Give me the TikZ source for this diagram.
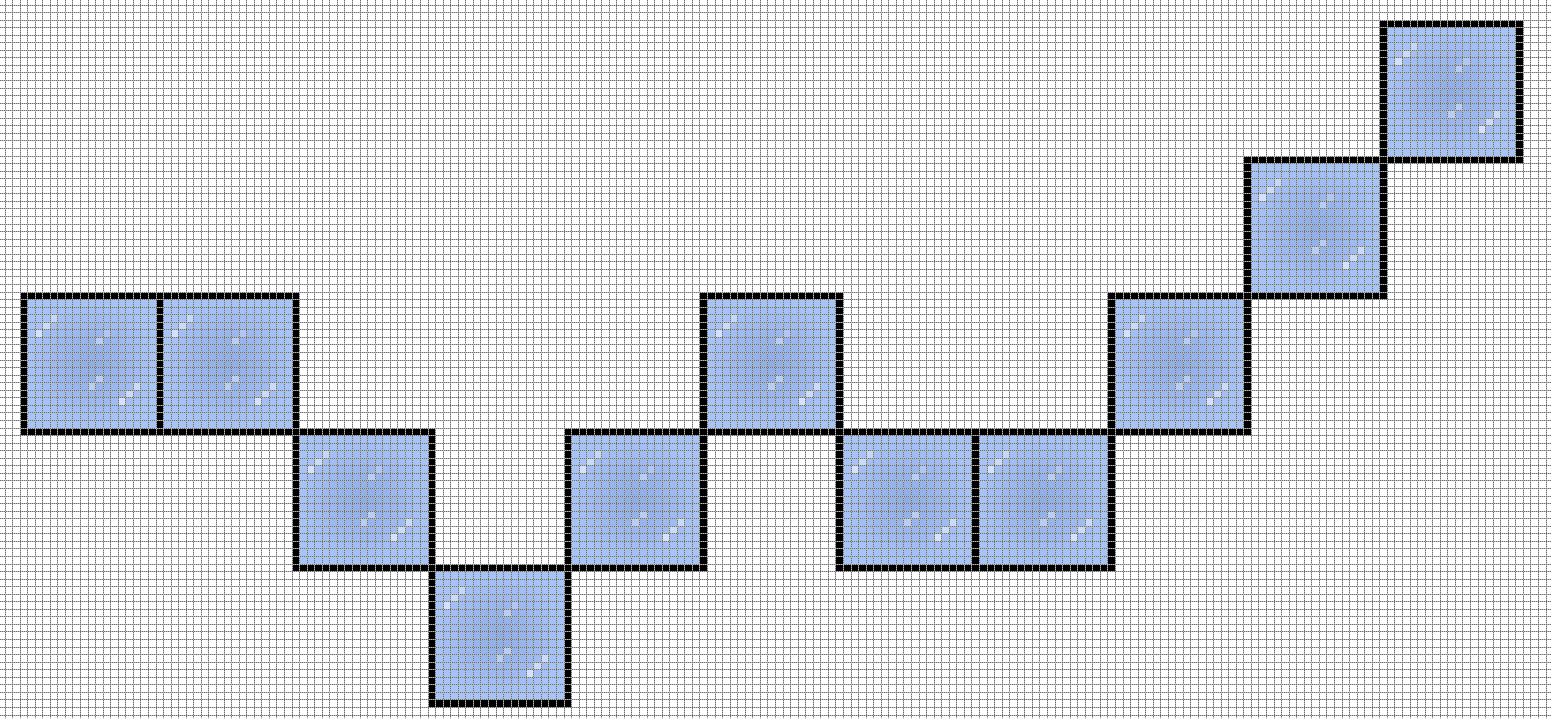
\documentclass[tikz,border=0pt]{standalone}
\usepackage{xcolor}
\definecolor{edgeblue}{HTML}{A6C4F8}
\definecolor{midblue}{HTML}{8EACE6}
\definecolor{hiA}{HTML}{C6D8F8}
\definecolor{hiB}{HTML}{CCDCF8}
\definecolor{hiC}{HTML}{D4E2FB}
\definecolor{hiD}{HTML}{B2C8F0}
\definecolor{hiE}{HTML}{BACEF2}
\definecolor{gridlight}{HTML}{B8B8B8}
\definecolor{griddark}{HTML}{6E6E6E}
\tikzset{
  gridsolid/.style={draw=gridlight, line width=0.5pt},
  griddash/.style={draw=griddark, line width=0.5pt, dash pattern=on 0.5pt off 0.5pt},
  tileborder/.style={fill=black},
  pixel/.style={fill=#1},
}
\newcommand\drawtile[2]{%
  \fill[tileborder] (#1,#2) rectangle ++(19,19);
  \foreach \i in {1,...,17}{\foreach \j in {1,...,17}{%
     \pgfmathtruncatemacro\t{min(100,round(100*sqrt((\i-9)^2+(\j-9)^2)/8.5))}%
     \fill[pixel=edgeblue!\t!midblue] (#1+\i,#2+\j) rectangle ++(1,1);}}
  \foreach \hx/\hy/\hc in {4/3/hiA,3/4/hiB,2/5/hiC,11/5/hiD,10/6/hiE,10/11/hiE,9/12/hiE,15/12/hiB,14/13/hiB,13/14/hiC}{%
     \fill[pixel=\hc] (#1+\hx,#2+\hy) rectangle ++(1,1);}
}
\begin{document}
\begin{tikzpicture}[x=3.777pt,y=-3.777pt]
\useasboundingbox (-0.662,-0.662) rectangle (204.66,94.39);
\fill[white] (-0.662,-0.662) rectangle (204.66,94.39);
\foreach \tc/\tr in {2/38,20/38,38/56,56/74,74/56,92/38,110/56,128/56,146/38,164/20,182/2}{%
  \drawtile{\tc}{\tr}
}
\foreach \k in {0,...,204}{%
  \draw[gridsolid] (\k,-0.662) -- (\k,94.39);
  \draw[griddash] (\k,-0.662) -- (\k,94.39);
}
\foreach \k in {0,...,94}{%
  \draw[gridsolid] (-0.662,\k) -- (204.66,\k);
  \draw[griddash] (-0.662,\k) -- (204.66,\k);
}
\end{tikzpicture}
\end{document}
